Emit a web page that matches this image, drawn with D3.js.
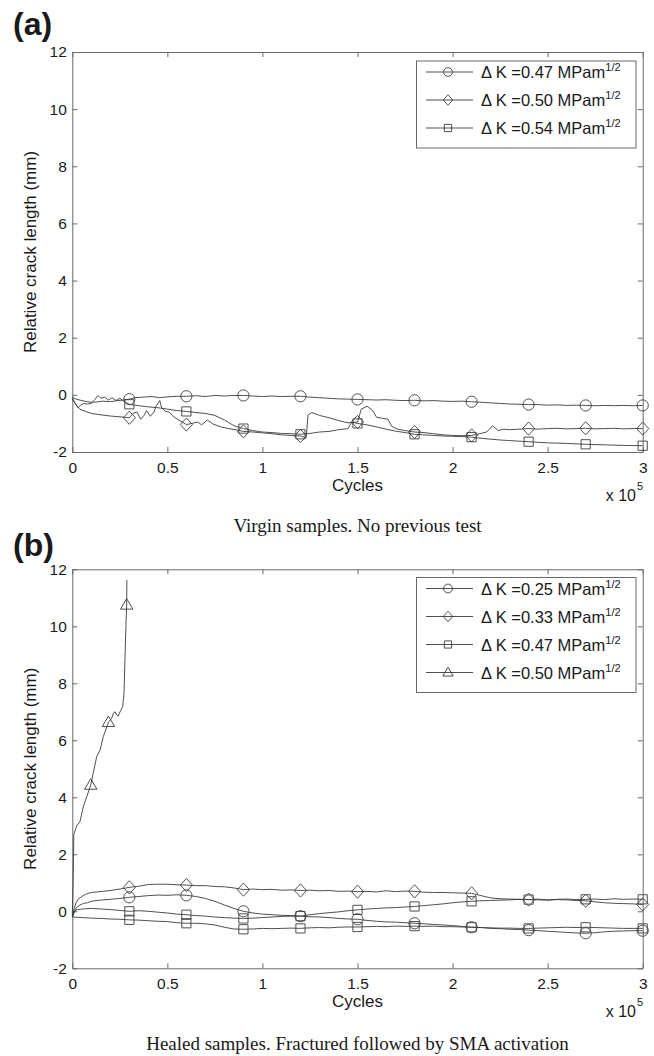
<!DOCTYPE html>
<html>
<head>
<meta charset="utf-8">
<script src="https://cdn.jsdelivr.net/npm/d3@7"></script>
<style>
  body { margin: 0; background: #fff; }
  svg { display: block; }
  text { font-family: "Liberation Sans", Arial, sans-serif; fill: #1a1a1a; }
  .caption { font-family: "Liberation Serif", "Times New Roman", serif; }
</style>
</head>
<body>
<svg id="fig" width="654" height="1056"></svg>
<script>
// ---- axis ticks ----
const xTicks = [0, 0.5, 1, 1.5, 2, 2.5, 3];
const xTickLabels = ["0", "0.5", "1", "1.5", "2", "2.5", "3"];
const yTicks = [-2, 0, 2, 4, 6, 8, 10, 12];
const yTickLabels = ["-2", "0", "2", "4", "6", "8", "10", "12"];

// cycles (x 10^5) at which markers are drawn on the long series
const markerCycles = [0.3, 0.6, 0.9, 1.2, 1.5, 1.8, 2.1, 2.4, 2.7, 3.0];
// marker positions on the short 0.50 series of panel (b)
const triMarkerCycles = [0.097, 0.19, 0.286];

// ---- panel (a): virgin samples, [cycles x1e5, relative crack length mm] ----
const virgin047 = [[0,-0.08],[0.02,-0.15],[0.05,-0.2],[0.08,-0.24],[0.1,-0.26],[0.13,-0.25],[0.16,-0.22],[0.2,-0.24],[0.24,-0.2],[0.27,-0.18],[0.3,-0.15],[0.33,-0.1],[0.37,-0.08],[0.42,-0.06],[0.46,-0.1],[0.5,-0.07],[0.55,-0.05],[0.6,-0.05],[0.65,-0.03],[0.7,-0.06],[0.75,-0.02],[0.8,-0.04],[0.85,-0.02],[0.9,-0.02],[0.95,-0.04],[1.0,-0.06],[1.05,-0.04],[1.1,-0.06],[1.15,-0.05],[1.2,-0.05],[1.25,-0.08],[1.3,-0.1],[1.35,-0.12],[1.4,-0.14],[1.45,-0.15],[1.5,-0.16],[1.55,-0.17],[1.6,-0.18],[1.65,-0.17],[1.7,-0.19],[1.75,-0.2],[1.8,-0.19],[1.85,-0.21],[1.9,-0.2],[1.95,-0.22],[2.0,-0.23],[2.05,-0.22],[2.1,-0.24],[2.15,-0.26],[2.2,-0.28],[2.25,-0.3],[2.3,-0.32],[2.35,-0.33],[2.4,-0.34],[2.45,-0.34],[2.5,-0.36],[2.55,-0.35],[2.6,-0.37],[2.65,-0.36],[2.7,-0.37],[2.75,-0.38],[2.8,-0.37],[2.85,-0.38],[2.9,-0.37],[2.95,-0.38],[3.0,-0.37]];
const virgin050 = [[0,-0.15],[0.02,-0.35],[0.04,-0.5],[0.07,-0.58],[0.1,-0.65],[0.15,-0.7],[0.2,-0.74],[0.25,-0.77],[0.3,-0.8],[0.32,-0.65],[0.34,-0.6],[0.36,-0.85],[0.38,-0.7],[0.39,-0.55],[0.41,-0.75],[0.43,-0.6],[0.44,-0.4],[0.46,-0.2],[0.47,-0.45],[0.49,-0.58],[0.51,-0.6],[0.53,-0.75],[0.56,-0.88],[0.6,-1.04],[0.63,-1.0],[0.66,-0.95],[0.68,-1.05],[0.71,-0.88],[0.74,-1.02],[0.78,-1.12],[0.82,-1.18],[0.86,-1.22],[0.9,-1.28],[0.95,-1.3],[1.0,-1.33],[1.05,-1.36],[1.1,-1.4],[1.15,-1.42],[1.2,-1.44],[1.23,-1.5],[1.24,-0.7],[1.26,-0.62],[1.3,-0.72],[1.35,-0.8],[1.4,-0.9],[1.45,-0.98],[1.5,-0.95],[1.52,-0.5],[1.55,-0.4],[1.58,-0.55],[1.6,-0.78],[1.63,-0.82],[1.66,-0.85],[1.68,-1.1],[1.71,-1.2],[1.75,-1.25],[1.8,-1.3],[1.85,-1.32],[1.9,-1.36],[1.95,-1.4],[2.0,-1.42],[2.05,-1.43],[2.1,-1.42],[2.15,-1.35],[2.18,-1.3],[2.21,-1.08],[2.24,-1.25],[2.27,-1.2],[2.3,-1.22],[2.35,-1.2],[2.4,-1.18],[2.45,-1.2],[2.5,-1.18],[2.55,-1.17],[2.6,-1.19],[2.65,-1.18],[2.7,-1.17],[2.75,-1.19],[2.8,-1.18],[2.85,-1.17],[2.9,-1.19],[2.95,-1.18],[3.0,-1.18]];
const virgin054 = [[0,-0.1],[0.015,-0.3],[0.03,-0.45],[0.045,-0.35],[0.06,-0.3],[0.08,-0.32],[0.1,-0.3],[0.12,-0.15],[0.135,-0.02],[0.15,-0.12],[0.17,-0.08],[0.19,-0.18],[0.21,-0.1],[0.23,-0.2],[0.25,-0.12],[0.27,-0.22],[0.3,-0.33],[0.35,-0.38],[0.4,-0.42],[0.45,-0.45],[0.5,-0.5],[0.55,-0.55],[0.6,-0.58],[0.65,-0.62],[0.7,-0.65],[0.75,-0.72],[0.8,-0.88],[0.85,-1.08],[0.9,-1.18],[0.95,-1.25],[1.0,-1.3],[1.05,-1.32],[1.1,-1.35],[1.15,-1.36],[1.2,-1.38],[1.25,-1.35],[1.3,-1.3],[1.35,-1.28],[1.4,-1.22],[1.45,-1.18],[1.47,-0.95],[1.5,-1.0],[1.55,-1.05],[1.6,-1.12],[1.65,-1.2],[1.7,-1.27],[1.75,-1.32],[1.8,-1.38],[1.85,-1.4],[1.9,-1.42],[1.95,-1.44],[2.0,-1.45],[2.05,-1.46],[2.1,-1.48],[2.15,-1.52],[2.2,-1.55],[2.25,-1.58],[2.3,-1.6],[2.35,-1.62],[2.4,-1.64],[2.5,-1.68],[2.6,-1.7],[2.7,-1.73],[2.8,-1.75],[2.9,-1.77],[3.0,-1.78]];

// ---- panel (b): healed samples ----
const healed025 = [[0,-0.2],[0.01,0.0],[0.02,0.12],[0.04,0.22],[0.06,0.28],[0.08,0.3],[0.1,0.35],[0.13,0.38],[0.16,0.4],[0.2,0.42],[0.25,0.45],[0.3,0.49],[0.35,0.52],[0.4,0.55],[0.45,0.57],[0.5,0.56],[0.55,0.58],[0.6,0.56],[0.65,0.52],[0.7,0.45],[0.75,0.35],[0.8,0.22],[0.85,0.1],[0.9,0.0],[0.95,-0.06],[1.0,-0.1],[1.05,-0.12],[1.1,-0.14],[1.15,-0.15],[1.2,-0.17],[1.25,-0.19],[1.3,-0.2],[1.35,-0.22],[1.4,-0.25],[1.45,-0.27],[1.5,-0.28],[1.55,-0.32],[1.6,-0.35],[1.65,-0.37],[1.7,-0.38],[1.75,-0.4],[1.8,-0.42],[1.85,-0.44],[1.9,-0.46],[1.95,-0.48],[2.0,-0.5],[2.05,-0.53],[2.1,-0.56],[2.15,-0.57],[2.2,-0.6],[2.25,-0.61],[2.3,-0.63],[2.35,-0.64],[2.4,-0.66],[2.45,-0.68],[2.5,-0.7],[2.55,-0.72],[2.6,-0.74],[2.65,-0.76],[2.7,-0.77],[2.75,-0.75],[2.8,-0.72],[2.85,-0.7],[2.9,-0.69],[2.95,-0.68],[3.0,-0.68]];
const healed033 = [[0,-0.2],[0.01,0.1],[0.02,0.3],[0.03,0.42],[0.05,0.52],[0.07,0.6],[0.1,0.66],[0.13,0.68],[0.16,0.7],[0.2,0.73],[0.25,0.78],[0.3,0.84],[0.35,0.88],[0.4,0.94],[0.45,0.95],[0.5,0.95],[0.55,0.93],[0.6,0.92],[0.65,0.9],[0.7,0.9],[0.75,0.87],[0.8,0.86],[0.85,0.82],[0.9,0.76],[0.95,0.78],[1.0,0.76],[1.05,0.77],[1.1,0.74],[1.15,0.75],[1.2,0.73],[1.25,0.74],[1.3,0.72],[1.35,0.73],[1.4,0.7],[1.45,0.71],[1.5,0.69],[1.55,0.7],[1.6,0.68],[1.65,0.72],[1.7,0.69],[1.75,0.71],[1.8,0.7],[1.85,0.67],[1.9,0.66],[1.95,0.66],[2.0,0.65],[2.05,0.64],[2.1,0.63],[2.15,0.55],[2.2,0.47],[2.25,0.44],[2.3,0.43],[2.35,0.42],[2.4,0.41],[2.45,0.4],[2.5,0.39],[2.55,0.41],[2.6,0.4],[2.65,0.38],[2.7,0.37],[2.75,0.33],[2.8,0.3],[2.85,0.28],[2.9,0.27],[2.95,0.26],[3.0,0.24]];
const healed047a = [[0,-0.2],[0.01,-0.05],[0.02,0.05],[0.05,0.08],[0.1,0.1],[0.15,0.08],[0.2,0.06],[0.25,0.03],[0.3,0.0],[0.35,0.02],[0.4,0.0],[0.45,-0.03],[0.5,-0.06],[0.55,-0.1],[0.6,-0.12],[0.65,-0.15],[0.7,-0.17],[0.75,-0.2],[0.8,-0.22],[0.85,-0.24],[0.9,-0.25],[0.95,-0.24],[1.0,-0.22],[1.05,-0.2],[1.1,-0.18],[1.15,-0.17],[1.2,-0.17],[1.25,-0.12],[1.3,-0.08],[1.35,-0.05],[1.4,-0.02],[1.45,0.02],[1.5,0.05],[1.55,0.08],[1.6,0.1],[1.65,0.12],[1.7,0.13],[1.75,0.15],[1.8,0.17],[1.85,0.2],[1.9,0.23],[1.95,0.26],[2.0,0.3],[2.05,0.33],[2.1,0.35],[2.15,0.37],[2.2,0.38],[2.25,0.39],[2.3,0.4],[2.35,0.42],[2.4,0.41],[2.45,0.43],[2.5,0.4],[2.55,0.42],[2.6,0.43],[2.65,0.41],[2.7,0.42],[2.75,0.43],[2.8,0.41],[2.85,0.44],[2.9,0.42],[2.95,0.43],[3.0,0.42]];
const healed047b = [[0,-0.2],[0.05,-0.22],[0.1,-0.24],[0.15,-0.25],[0.2,-0.27],[0.25,-0.28],[0.3,-0.3],[0.35,-0.31],[0.4,-0.33],[0.45,-0.35],[0.5,-0.36],[0.55,-0.4],[0.6,-0.42],[0.65,-0.42],[0.7,-0.44],[0.75,-0.48],[0.8,-0.56],[0.85,-0.62],[0.9,-0.63],[0.95,-0.62],[1.0,-0.6],[1.05,-0.61],[1.1,-0.6],[1.15,-0.59],[1.2,-0.6],[1.25,-0.58],[1.3,-0.57],[1.35,-0.58],[1.4,-0.56],[1.45,-0.55],[1.5,-0.55],[1.55,-0.54],[1.6,-0.53],[1.65,-0.54],[1.7,-0.52],[1.75,-0.53],[1.8,-0.52],[1.85,-0.53],[1.9,-0.52],[1.95,-0.54],[2.0,-0.54],[2.05,-0.55],[2.1,-0.56],[2.15,-0.57],[2.2,-0.58],[2.25,-0.59],[2.3,-0.59],[2.35,-0.6],[2.4,-0.6],[2.45,-0.59],[2.5,-0.58],[2.55,-0.57],[2.6,-0.56],[2.65,-0.57],[2.7,-0.56],[2.75,-0.57],[2.8,-0.58],[2.85,-0.59],[2.9,-0.6],[2.95,-0.6],[3.0,-0.6]];
const healed050 = [[0,-0.15],[0.004,1.0],[0.006,1.8],[0.008,2.7],[0.023,3.0],[0.04,3.14],[0.058,3.67],[0.076,4.02],[0.097,4.43],[0.11,4.84],[0.128,5.42],[0.146,5.66],[0.163,6.13],[0.19,6.63],[0.207,6.77],[0.216,6.95],[0.225,7.0],[0.234,6.89],[0.242,6.85],[0.251,7.0],[0.265,7.18],[0.272,7.65],[0.277,8.82],[0.282,10.0],[0.286,10.75],[0.287,11.62]];

const legendValuesA = ["0.47", "0.50", "0.54"];
const legendValuesB = ["0.25", "0.33", "0.47", "0.50"];

// ---- marker shapes (open symbols) ----
const shapes = {
  circle: { draw(ctx, r) { ctx.moveTo(r, 0); ctx.arc(0, 0, r, 0, 2 * Math.PI); } },
  diamond: { draw(ctx, r) { ctx.moveTo(0, -r); ctx.lineTo(r * 0.92, 0); ctx.lineTo(0, r); ctx.lineTo(-r * 0.92, 0); ctx.closePath(); } },
  square: { draw(ctx, r) { ctx.rect(-r, -r, 2 * r, 2 * r); } },
  triangle: { draw(ctx, r) { const h = r * 1.7; ctx.moveTo(0, -h * 0.6); ctx.lineTo(r, h * 0.4); ctx.lineTo(-r, h * 0.4); ctx.closePath(); } }
};
const dataSize = { circle: 5.6, diamond: 6.6, square: 4.6, triangle: 6.2 };
const legendSize = { circle: 4.4, diamond: 5.2, square: 3.6, triangle: 5.2 };

const svg = d3.select("#fig");
const ink = "#3c3c3c";
const axisInk = "#6a6a6a";

const left = 72.3, right = 642.7;

function drawPanel(cfg) {
  const g = svg.append("g");
  const x = d3.scaleLinear().domain([0, 3]).range([left, right]);
  const y = d3.scaleLinear().domain([-2, 12]).range([cfg.bottom, cfg.top]);

  // panel letter
  svg.append("text").attr("x", 13).attr("y", cfg.letterY)
    .style("font-size", "32px").style("font-weight", "bold").text(cfg.letter);

  // axes box with inward ticks
  const bottomAxis = d3.axisBottom(x).tickValues(xTicks).tickFormat((d, i) => xTickLabels[i])
    .tickSizeInner(-5).tickSizeOuter(0).tickPadding(9.5);
  const topAxis = d3.axisTop(x).tickValues(xTicks).tickFormat(() => "")
    .tickSizeInner(-5).tickSizeOuter(0);
  const leftAxis = d3.axisLeft(y).tickValues(yTicks).tickFormat((d, i) => yTickLabels[i])
    .tickSizeInner(-5).tickSizeOuter(0).tickPadding(5.5);
  const rightAxis = d3.axisRight(y).tickValues(yTicks).tickFormat(() => "")
    .tickSizeInner(-5).tickSizeOuter(0);

  const axes = [
    g.append("g").attr("transform", `translate(0,${cfg.bottom})`).call(bottomAxis),
    g.append("g").attr("transform", `translate(0,${cfg.top})`).call(topAxis),
    g.append("g").attr("transform", `translate(${left},0)`).call(leftAxis),
    g.append("g").attr("transform", `translate(${right},0)`).call(rightAxis)
  ];
  axes.forEach(a => {
    a.selectAll("path.domain").attr("stroke", axisInk).attr("stroke-width", 1);
    a.selectAll(".tick line").attr("stroke", axisInk);
    a.selectAll(".tick text").attr("fill", "#1a1a1a").style("font-size", "15.5px")
      .style("font-family", '"Liberation Sans", Arial, sans-serif');
  });

  // axis titles
  g.append("text").attr("x", (left + right) / 2).attr("y", cfg.bottom + 39)
    .attr("text-anchor", "middle").style("font-size", "17px").text("Cycles");
  g.append("text").attr("x", 636).attr("y", cfg.bottom + 49)
    .attr("text-anchor", "end").style("font-size", "16px").text("x 10");
  g.append("text").attr("x", 637).attr("y", cfg.bottom + 38)
    .style("font-size", "11px").text("5");
  g.append("text")
    .attr("transform", `translate(36,${(cfg.top + cfg.bottom) / 2}) rotate(-90)`)
    .attr("text-anchor", "middle").style("font-size", "17px")
    .text("Relative crack length (mm)");

  // series lines and markers
  const line = d3.line().x(d => x(d[0])).y(d => y(d[1]));
  cfg.series.forEach(s => {
    g.append("path").datum(s.data).attr("d", line)
      .attr("fill", "none").attr("stroke", ink).attr("stroke-width", 0.9)
      .attr("stroke-linejoin", "round");
    const marks = s.data.filter(d => s.markAt.some(m => Math.abs(m - d[0]) < 1e-9));
    g.selectAll(null).data(marks).enter().append("path")
      .attr("transform", d => `translate(${x(d[0])},${y(d[1])})`)
      .attr("d", d3.symbol().type(shapes[s.shape]).size(dataSize[s.shape]))
      .attr("fill", "none").attr("stroke", ink).attr("stroke-width", 0.9);
  });

  // legend
  const lg = g.append("g");
  lg.append("rect").attr("x", 416.5).attr("y", cfg.legendTop)
    .attr("width", 219.5).attr("height", cfg.legend.length * 28 + 3)
    .attr("fill", "#fff").attr("stroke", axisInk).attr("stroke-width", 1);
  cfg.legend.forEach((item, i) => {
    const cy = cfg.legendTop + 11 + i * 28;
    lg.append("line").attr("x1", 426).attr("x2", 473).attr("y1", cy).attr("y2", cy)
      .attr("stroke", ink).attr("stroke-width", 0.9);
    lg.append("path").attr("transform", `translate(448,${cy})`)
      .attr("d", d3.symbol().type(shapes[item.shape]).size(legendSize[item.shape]))
      .attr("fill", "none").attr("stroke", ink).attr("stroke-width", 0.9);
    const t = lg.append("text").attr("x", 481).attr("y", cy + 6).style("font-size", "16.5px");
    t.append("tspan").text(`\u0394 K =${item.value} MPam`);
    t.append("tspan").attr("dy", -7).style("font-size", "11px").text("1/2");
  });

  // caption
  svg.append("text").attr("class", "caption").attr("x", (left + right) / 2).attr("y", cfg.captionY)
    .attr("text-anchor", "middle").style("font-size", "19px").text(cfg.caption);
}

drawPanel({
  letter: "(a)", letterY: 35, top: 52, bottom: 452, legendTop: 61, captionY: 532,
  caption: "Virgin samples. No previous test",
  series: [
    { data: virgin047, shape: "circle", markAt: markerCycles },
    { data: virgin050, shape: "diamond", markAt: markerCycles },
    { data: virgin054, shape: "square", markAt: markerCycles }
  ],
  legend: [
    { shape: "circle", value: legendValuesA[0] },
    { shape: "diamond", value: legendValuesA[1] },
    { shape: "square", value: legendValuesA[2] }
  ]
});

drawPanel({
  letter: "(b)", letterY: 556, top: 569.3, bottom: 968.3, legendTop: 577.5, captionY: 1050,
  caption: "Healed samples. Fractured followed by SMA activation",
  series: [
    { data: healed025, shape: "circle", markAt: markerCycles },
    { data: healed033, shape: "diamond", markAt: markerCycles },
    { data: healed047a, shape: "square", markAt: markerCycles },
    { data: healed047b, shape: "square", markAt: markerCycles },
    { data: healed050, shape: "triangle", markAt: triMarkerCycles }
  ],
  legend: [
    { shape: "circle", value: legendValuesB[0] },
    { shape: "diamond", value: legendValuesB[1] },
    { shape: "square", value: legendValuesB[2] },
    { shape: "triangle", value: legendValuesB[3] }
  ]
});
</script>
</body>
</html>
